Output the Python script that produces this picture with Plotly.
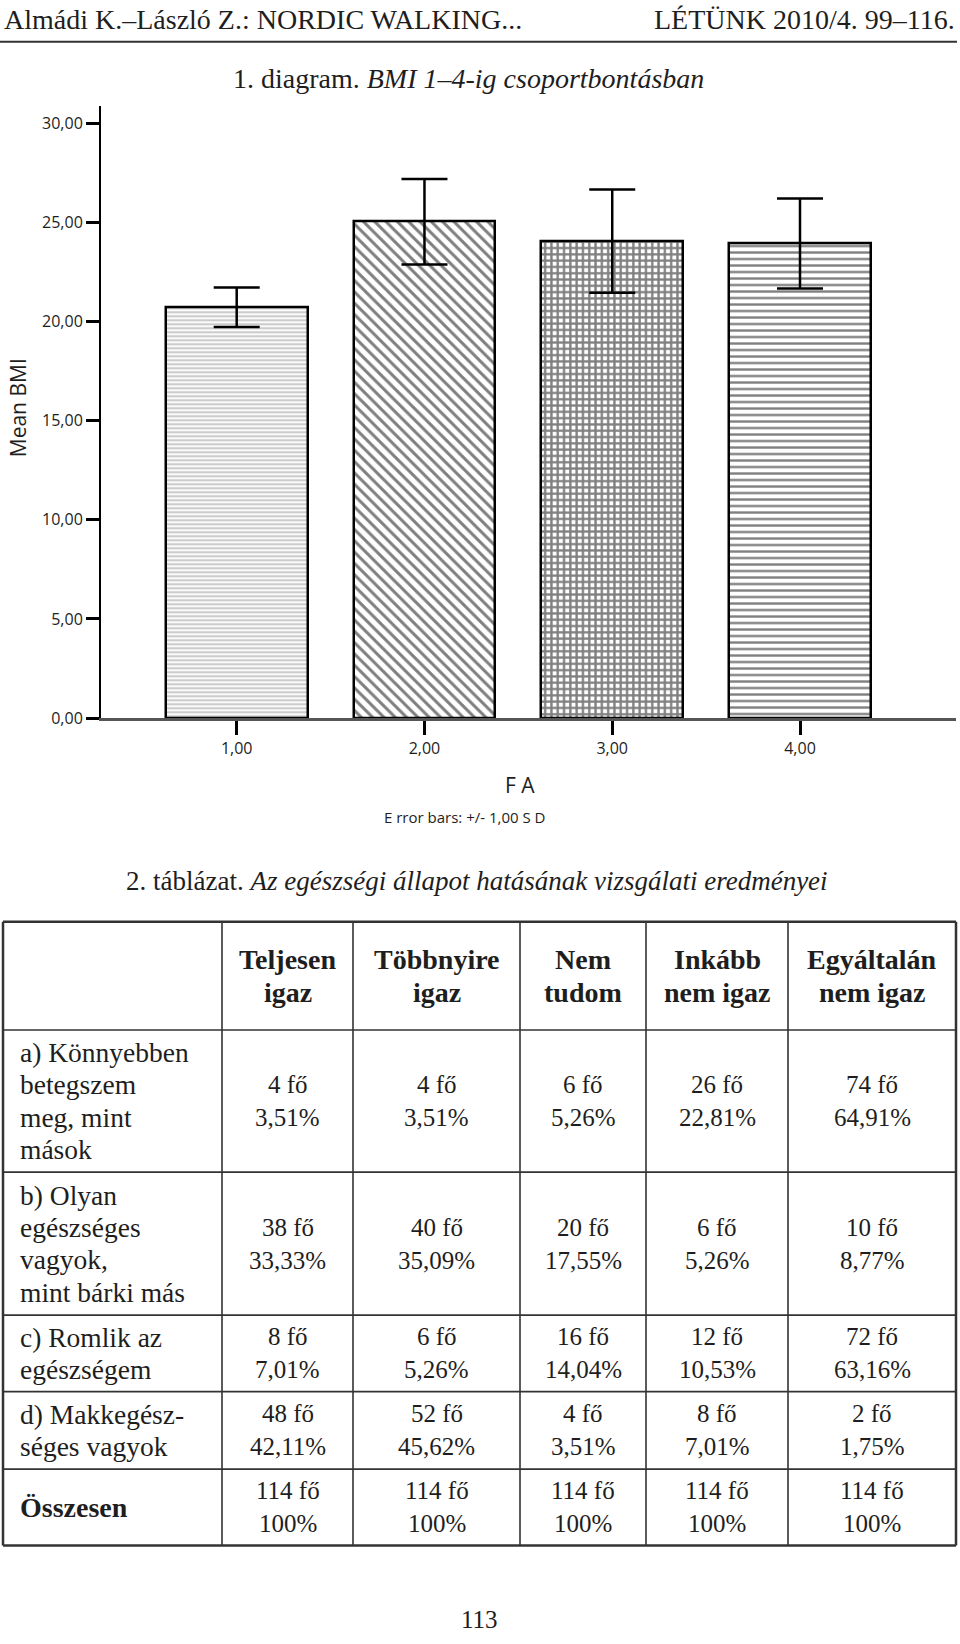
import plotly.graph_objects as go

# ---------------- data ----------------
groups = [1, 2, 3, 4]
group_labels = ["1,00", "2,00", "3,00", "4,00"]
bmi_mean = [20.72, 25.03, 24.05, 23.93]
bmi_sd = [1.00, 2.15, 2.60, 2.27]
y_ticks = [0, 5, 10, 15, 20, 25, 30]
y_tick_labels = ["0,00", "5,00", "10,00", "15,00", "20,00", "25,00", "30,00"]

table_columns = [["Teljesen", "igaz"], ["Többnyire", "igaz"], ["Nem", "tudom"],
                 ["Inkább", "nem igaz"], ["Egyáltalán", "nem igaz"]]
row_labels = [["a) Könnyebben", "betegszem", "meg, mint", "mások"],
              ["b) Olyan", "egészséges", "vagyok,", "mint bárki más"],
              ["c) Romlik az", "egészségem"],
              ["d) Makkegész-", "séges vagyok"],
              ["<b>Összesen</b>"]]
counts = [[4, 4, 6, 26, 74],
          [38, 40, 20, 6, 10],
          [8, 6, 16, 12, 72],
          [48, 52, 4, 8, 2],
          [114, 114, 114, 114, 114]]
percents = [["3,51%", "3,51%", "5,26%", "22,81%", "64,91%"],
            ["33,33%", "35,09%", "17,55%", "5,26%", "8,77%"],
            ["7,01%", "5,26%", "14,04%", "10,53%", "63,16%"],
            ["42,11%", "45,62%", "3,51%", "7,01%", "1,75%"],
            ["100%", "100%", "100%", "100%", "100%"]]

# ---------------- layout constants ----------------
W, H = 960, 1644
def PX(x): return x / W
def PY(y): return 1 - y / H

SERIF = "Liberation Serif"
SANS = "Open Sans"
INK = "#1e1e1e"

fig = go.Figure()
fig.add_trace(go.Bar(
    x=groups, y=bmi_mean, width=0.755,
    marker=dict(
        color="white",
        line=dict(color="black", width=2.5),
        pattern=dict(
            shape=["-", "\\", "+", "-"],
            size=[4, 8, 6.3, 6.5],
            solidity=[0.55, 0.38, 0.6, 0.36],
            fgcolor=["#999999", "black", "black", "black"],
            bgcolor="white",
            fillmode="overlay",
        ),
    ),
    error_y=dict(type="data", array=bmi_sd, visible=True,
                 color="black", thickness=2.5, width=23),
    showlegend=False,
))

px_per_unit_x = (800 - 236.7) / 3
x_left = 1 - (236.7 - 101) / px_per_unit_x
x_right = 4 + (956 - 800) / px_per_unit_x
px_per_unit_y = (723 - 124) / 30
y_top = (723 - 107) / px_per_unit_y

fig.update_layout(
    width=W, height=H,
    margin=dict(l=0, r=0, t=0, b=0),
    paper_bgcolor="white", plot_bgcolor="white",
    bargap=0,
    xaxis=dict(domain=[PX(101), PX(956)], range=[x_left, x_right],
               tickvals=groups, ticktext=group_labels,
               showline=True, linecolor="#555555", linewidth=2.5,
               ticks="outside", ticklen=14, tickwidth=2.5, tickcolor="black",
               showgrid=False, zeroline=False,
               tickfont=dict(family=SANS, size=16, color=INK)),
    yaxis=dict(domain=[PY(723), PY(107)], range=[0, y_top],
               tickvals=y_ticks, ticktext=y_tick_labels,
               showline=True, linecolor="black", linewidth=2,
               ticks="outside", ticklen=13, tickwidth=2.5, tickcolor="black",
               showgrid=False, zeroline=False,
               tickfont=dict(family=SANS, size=16, color=INK)),
)

ann = []
def text(x, y, s, size, family=SERIF, xanchor="center", angle=0, color=INK, align="center"):
    ann.append(dict(x=PX(x), y=PY(y), xref="paper", yref="paper", text=s,
                    showarrow=False, xanchor=xanchor, yanchor="middle", align=align,
                    textangle=angle, font=dict(family=family, size=size, color=color)))

def lines(x, cy, parts, size, spacing, **kw):
    n = len(parts)
    for k, p in enumerate(parts):
        text(x, cy + (k - (n - 1) / 2) * spacing, p, size, **kw)

# page header
text(2, 20, "Almádi K.–László Z.: NORDIC WALKING...", 28, xanchor="left")
text(957, 20, "LÉTÜNK 2010/4. 99–116.", 28, xanchor="right")
# figure caption
text(468, 79, "1. diagram. <i>BMI 1–4-ig csoportbontásban</i>", 28)
# axis titles
text(18, 411, "Mean BMI", 21, family=SANS, angle=-90)
text(520, 790, "F A", 21, family=SANS)
text(464, 823, "E rror bars: +/- 1,00 S D", 15, family=SANS)
# table caption
text(477, 887, "2. táblázat. <i>Az egészségi állapot hatásának vizsgálati eredményei</i>", 27)
# page number
text(479, 1630, "113", 25)

shapes = [dict(type="line", xref="paper", yref="paper", x0=PX(0), x1=PX(957),
               y0=PY(42), y1=PY(42), line=dict(color="#333333", width=2))]

# table grid
col_edges = [3, 222, 353, 520, 646, 788, 956]
row_edges = [928, 1037, 1180, 1324, 1401, 1479, 1556]
for i, xe in enumerate(col_edges):
    w = 2.5 if i in (0, len(col_edges) - 1) else 1.6
    shapes.append(dict(type="line", xref="paper", yref="paper", x0=PX(xe), x1=PX(xe),
                       y0=PY(row_edges[0]), y1=PY(row_edges[-1]),
                       line=dict(color="#333333", width=w)))
for i, ye in enumerate(row_edges):
    w = 2.5 if i in (0, len(row_edges) - 1) else 1.6
    shapes.append(dict(type="line", xref="paper", yref="paper", x0=PX(col_edges[0]),
                       x1=PX(col_edges[-1]), y0=PY(ye), y1=PY(ye),
                       line=dict(color="#333333", width=w)))

TF = 25
for j, c in enumerate(table_columns):
    cx = (col_edges[j + 1] + col_edges[j + 2]) / 2
    cy = (row_edges[0] + row_edges[1]) / 2
    lines(cx, cy, ["<b>" + p + "</b>" for p in c], 28, 34)
for i, lab in enumerate(row_labels):
    cy = (row_edges[i + 1] + row_edges[i + 2]) / 2
    lines(18, cy, lab, 27.5 if i < 4 else 28, 32.5, xanchor="left", align="left")
    for j in range(5):
        cx = (col_edges[j + 1] + col_edges[j + 2]) / 2
        lines(cx, cy, [f"{counts[i][j]} fő", percents[i][j]], TF, 33)

fig.update_layout(annotations=ann, shapes=shapes)
fig.write_html("out.html", config={"displayModeBar": False},
               post_script="document.body.style.margin='0';document.body.style.overflow='hidden';")
